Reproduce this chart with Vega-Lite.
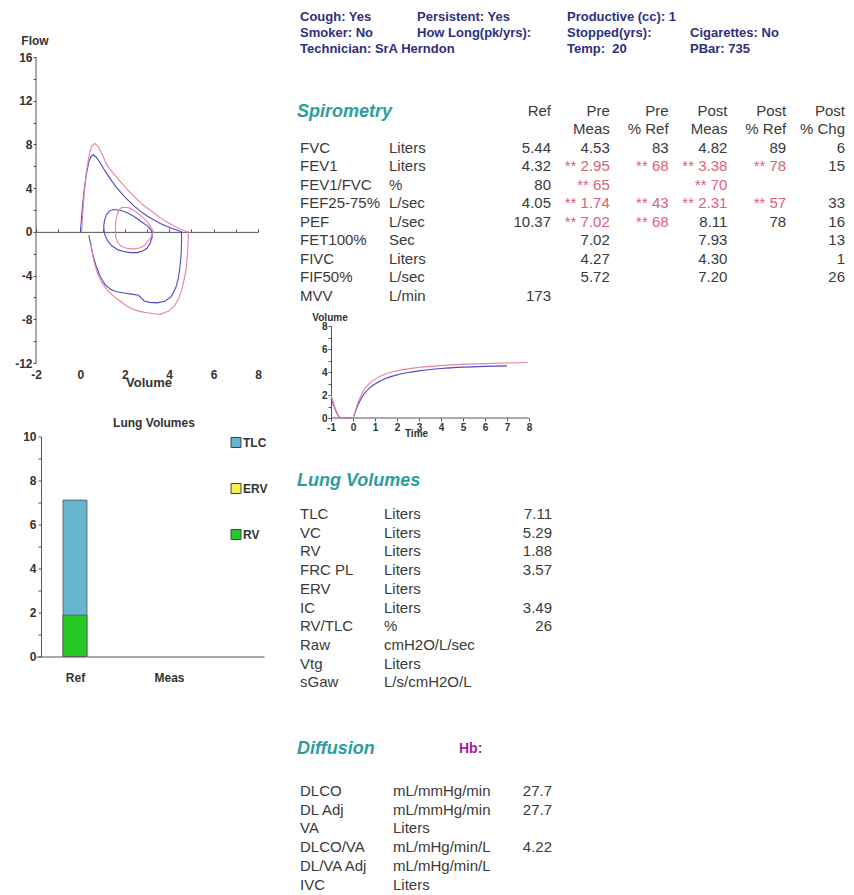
{
  "$schema": "https://vega.github.io/schema/vega-lite/v6.json",
  "background": "white",
  "padding": {"left": 14, "top": 0, "right": 0, "bottom": 0},
  "config": {
    "font": "Liberation Sans",
    "view": {"stroke": null},
    "axis": {"grid": false, "labelFont": "Liberation Sans", "titleFont": "Liberation Sans", "labelFlush": false, "domainColor": "#555", "tickColor": "#555", "labelColor": "#333", "titleColor": "#333", "labelOverlap": false}
  },
  "datasets": {
    "flowvol": [
      {"t":"Pre","c":"pre-forced","i":0,"v":0.00,"f":0.0},{"t":"Pre","c":"pre-forced","i":1,"v":0.04,"f":1.0},{"t":"Pre","c":"pre-forced","i":2,"v":0.10,"f":2.5},{"t":"Pre","c":"pre-forced","i":3,"v":0.18,"f":4.0},{"t":"Pre","c":"pre-forced","i":4,"v":0.28,"f":5.4},{"t":"Pre","c":"pre-forced","i":5,"v":0.38,"f":6.4},{"t":"Pre","c":"pre-forced","i":6,"v":0.48,"f":6.9},{"t":"Pre","c":"pre-forced","i":7,"v":0.58,"f":7.05},{"t":"Pre","c":"pre-forced","i":8,"v":0.70,"f":6.85},{"t":"Pre","c":"pre-forced","i":9,"v":0.90,"f":6.3},{"t":"Pre","c":"pre-forced","i":10,"v":1.10,"f":5.6},{"t":"Pre","c":"pre-forced","i":11,"v":1.36,"f":4.8},{"t":"Pre","c":"pre-forced","i":12,"v":1.65,"f":4.0},{"t":"Pre","c":"pre-forced","i":13,"v":1.95,"f":3.3},{"t":"Pre","c":"pre-forced","i":14,"v":2.40,"f":2.4},{"t":"Pre","c":"pre-forced","i":15,"v":2.70,"f":1.9},{"t":"Pre","c":"pre-forced","i":16,"v":3.00,"f":1.45},{"t":"Pre","c":"pre-forced","i":17,"v":3.30,"f":1.1},{"t":"Pre","c":"pre-forced","i":18,"v":3.60,"f":0.76},{"t":"Pre","c":"pre-forced","i":19,"v":3.90,"f":0.5},{"t":"Pre","c":"pre-forced","i":20,"v":4.20,"f":0.27},{"t":"Pre","c":"pre-forced","i":21,"v":4.40,"f":0.12},{"t":"Pre","c":"pre-forced","i":22,"v":4.55,"f":0.0},{"t":"Pre","c":"pre-forced","i":23,"v":4.56,"f":-0.7},{"t":"Pre","c":"pre-forced","i":24,"v":4.54,"f":-2.0},{"t":"Pre","c":"pre-forced","i":25,"v":4.49,"f":-3.1},{"t":"Pre","c":"pre-forced","i":26,"v":4.42,"f":-4.2},{"t":"Pre","c":"pre-forced","i":27,"v":4.30,"f":-5.1},{"t":"Pre","c":"pre-forced","i":28,"v":4.10,"f":-5.9},{"t":"Pre","c":"pre-forced","i":29,"v":3.80,"f":-6.35},{"t":"Pre","c":"pre-forced","i":30,"v":3.46,"f":-6.5},{"t":"Pre","c":"pre-forced","i":31,"v":3.10,"f":-6.45},{"t":"Pre","c":"pre-forced","i":32,"v":2.86,"f":-6.3},{"t":"Pre","c":"pre-forced","i":33,"v":2.62,"f":-5.8},{"t":"Pre","c":"pre-forced","i":34,"v":2.30,"f":-5.7},{"t":"Pre","c":"pre-forced","i":35,"v":1.95,"f":-5.6},{"t":"Pre","c":"pre-forced","i":36,"v":1.60,"f":-5.45},{"t":"Pre","c":"pre-forced","i":37,"v":1.36,"f":-5.25},{"t":"Pre","c":"pre-forced","i":38,"v":1.10,"f":-4.8},{"t":"Pre","c":"pre-forced","i":39,"v":0.90,"f":-4.1},{"t":"Pre","c":"pre-forced","i":40,"v":0.70,"f":-3.1},{"t":"Pre","c":"pre-forced","i":41,"v":0.55,"f":-2.0},{"t":"Pre","c":"pre-forced","i":42,"v":0.45,"f":-1.0},{"t":"Pre","c":"pre-forced","i":43,"v":0.38,"f":-0.3},
      {"t":"Post","c":"post-forced","i":0,"v":0.06,"f":0.0},{"t":"Post","c":"post-forced","i":1,"v":0.10,"f":1.5},{"t":"Post","c":"post-forced","i":2,"v":0.17,"f":3.5},{"t":"Post","c":"post-forced","i":3,"v":0.27,"f":5.5},{"t":"Post","c":"post-forced","i":4,"v":0.39,"f":7.0},{"t":"Post","c":"post-forced","i":5,"v":0.51,"f":7.8},{"t":"Post","c":"post-forced","i":6,"v":0.64,"f":8.1},{"t":"Post","c":"post-forced","i":7,"v":0.80,"f":7.8},{"t":"Post","c":"post-forced","i":8,"v":1.00,"f":7.0},{"t":"Post","c":"post-forced","i":9,"v":1.20,"f":6.1},{"t":"Post","c":"post-forced","i":10,"v":1.50,"f":5.3},{"t":"Post","c":"post-forced","i":11,"v":1.80,"f":4.6},{"t":"Post","c":"post-forced","i":12,"v":2.10,"f":3.9},{"t":"Post","c":"post-forced","i":13,"v":2.40,"f":3.3},{"t":"Post","c":"post-forced","i":14,"v":2.80,"f":2.5},{"t":"Post","c":"post-forced","i":15,"v":3.30,"f":1.75},{"t":"Post","c":"post-forced","i":16,"v":3.60,"f":1.3},{"t":"Post","c":"post-forced","i":17,"v":3.90,"f":0.9},{"t":"Post","c":"post-forced","i":18,"v":4.20,"f":0.55},{"t":"Post","c":"post-forced","i":19,"v":4.50,"f":0.27},{"t":"Post","c":"post-forced","i":20,"v":4.70,"f":0.1},{"t":"Post","c":"post-forced","i":21,"v":4.85,"f":0.0},{"t":"Post","c":"post-forced","i":22,"v":4.86,"f":-0.6},{"t":"Post","c":"post-forced","i":23,"v":4.83,"f":-1.9},{"t":"Post","c":"post-forced","i":24,"v":4.77,"f":-3.3},{"t":"Post","c":"post-forced","i":25,"v":4.70,"f":-4.1},{"t":"Post","c":"post-forced","i":26,"v":4.58,"f":-5.2},{"t":"Post","c":"post-forced","i":27,"v":4.43,"f":-6.1},{"t":"Post","c":"post-forced","i":28,"v":4.23,"f":-6.8},{"t":"Post","c":"post-forced","i":29,"v":3.98,"f":-7.25},{"t":"Post","c":"post-forced","i":30,"v":3.60,"f":-7.55},{"t":"Post","c":"post-forced","i":31,"v":3.30,"f":-7.5},{"t":"Post","c":"post-forced","i":32,"v":3.00,"f":-7.4},{"t":"Post","c":"post-forced","i":33,"v":2.70,"f":-7.3},{"t":"Post","c":"post-forced","i":34,"v":2.40,"f":-7.1},{"t":"Post","c":"post-forced","i":35,"v":2.10,"f":-6.8},{"t":"Post","c":"post-forced","i":36,"v":1.80,"f":-6.35},{"t":"Post","c":"post-forced","i":37,"v":1.50,"f":-5.9},{"t":"Post","c":"post-forced","i":38,"v":1.20,"f":-5.3},{"t":"Post","c":"post-forced","i":39,"v":0.95,"f":-4.6},{"t":"Post","c":"post-forced","i":40,"v":0.76,"f":-3.75},{"t":"Post","c":"post-forced","i":41,"v":0.62,"f":-2.8},{"t":"Post","c":"post-forced","i":42,"v":0.53,"f":-1.9},{"t":"Post","c":"post-forced","i":43,"v":0.47,"f":-1.0},
      {"t":"Pre","c":"pre-tidal","i":0,"v":3.23,"f":0.0},{"t":"Pre","c":"pre-tidal","i":1,"v":3.05,"f":0.5},{"t":"Pre","c":"pre-tidal","i":2,"v":2.86,"f":0.76},{"t":"Pre","c":"pre-tidal","i":3,"v":2.60,"f":1.15},{"t":"Pre","c":"pre-tidal","i":4,"v":2.40,"f":1.43},{"t":"Pre","c":"pre-tidal","i":5,"v":2.15,"f":1.7},{"t":"Pre","c":"pre-tidal","i":6,"v":1.95,"f":1.89},{"t":"Pre","c":"pre-tidal","i":7,"v":1.70,"f":2.0},{"t":"Pre","c":"pre-tidal","i":8,"v":1.50,"f":2.04},{"t":"Pre","c":"pre-tidal","i":9,"v":1.30,"f":1.9},{"t":"Pre","c":"pre-tidal","i":10,"v":1.18,"f":1.58},{"t":"Pre","c":"pre-tidal","i":11,"v":1.08,"f":1.0},{"t":"Pre","c":"pre-tidal","i":12,"v":1.05,"f":0.5},{"t":"Pre","c":"pre-tidal","i":13,"v":1.08,"f":-0.1},{"t":"Pre","c":"pre-tidal","i":14,"v":1.13,"f":-0.4},{"t":"Pre","c":"pre-tidal","i":15,"v":1.25,"f":-0.9},{"t":"Pre","c":"pre-tidal","i":16,"v":1.43,"f":-1.3},{"t":"Pre","c":"pre-tidal","i":17,"v":1.70,"f":-1.65},{"t":"Pre","c":"pre-tidal","i":18,"v":1.95,"f":-1.8},{"t":"Pre","c":"pre-tidal","i":19,"v":2.25,"f":-1.9},{"t":"Pre","c":"pre-tidal","i":20,"v":2.56,"f":-1.9},{"t":"Pre","c":"pre-tidal","i":21,"v":2.80,"f":-1.75},{"t":"Pre","c":"pre-tidal","i":22,"v":3.00,"f":-1.5},{"t":"Pre","c":"pre-tidal","i":23,"v":3.15,"f":-1.0},{"t":"Pre","c":"pre-tidal","i":24,"v":3.23,"f":-0.5},{"t":"Pre","c":"pre-tidal","i":25,"v":3.23,"f":0.0},
      {"t":"Post","c":"post-tidal","i":0,"v":3.30,"f":0.0},{"t":"Post","c":"post-tidal","i":1,"v":3.15,"f":0.5},{"t":"Post","c":"post-tidal","i":2,"v":3.00,"f":0.97},{"t":"Post","c":"post-tidal","i":3,"v":2.80,"f":1.35},{"t":"Post","c":"post-tidal","i":4,"v":2.56,"f":1.74},{"t":"Post","c":"post-tidal","i":5,"v":2.35,"f":2.05},{"t":"Post","c":"post-tidal","i":6,"v":2.18,"f":2.2},{"t":"Post","c":"post-tidal","i":7,"v":2.00,"f":2.25},{"t":"Post","c":"post-tidal","i":8,"v":1.84,"f":2.2},{"t":"Post","c":"post-tidal","i":9,"v":1.72,"f":1.95},{"t":"Post","c":"post-tidal","i":10,"v":1.66,"f":1.58},{"t":"Post","c":"post-tidal","i":11,"v":1.60,"f":1.0},{"t":"Post","c":"post-tidal","i":12,"v":1.58,"f":0.5},{"t":"Post","c":"post-tidal","i":13,"v":1.58,"f":-0.1},{"t":"Post","c":"post-tidal","i":14,"v":1.60,"f":-0.55},{"t":"Post","c":"post-tidal","i":15,"v":1.68,"f":-0.95},{"t":"Post","c":"post-tidal","i":16,"v":1.80,"f":-1.25},{"t":"Post","c":"post-tidal","i":17,"v":2.00,"f":-1.45},{"t":"Post","c":"post-tidal","i":18,"v":2.25,"f":-1.56},{"t":"Post","c":"post-tidal","i":19,"v":2.50,"f":-1.55},{"t":"Post","c":"post-tidal","i":20,"v":2.70,"f":-1.46},{"t":"Post","c":"post-tidal","i":21,"v":2.90,"f":-1.2},{"t":"Post","c":"post-tidal","i":22,"v":3.00,"f":-0.95},{"t":"Post","c":"post-tidal","i":23,"v":3.15,"f":-0.6},{"t":"Post","c":"post-tidal","i":24,"v":3.23,"f":-0.25},{"t":"Post","c":"post-tidal","i":25,"v":3.30,"f":0.0}
    ],
    "voltime": [
      {"t":"Pre","s":-1,"v":1.7},{"t":"Pre","s":-0.9,"v":1.2},{"t":"Pre","s":-0.8,"v":0.7},{"t":"Pre","s":-0.7,"v":0.3},{"t":"Pre","s":-0.6,"v":0.05},{"t":"Pre","s":-0.4,"v":0.0},{"t":"Pre","s":-0.2,"v":0.02},{"t":"Pre","s":0,"v":0.05},{"t":"Pre","s":0.1,"v":0.5},{"t":"Pre","s":0.2,"v":1.0},{"t":"Pre","s":0.35,"v":1.6},{"t":"Pre","s":0.5,"v":2.1},{"t":"Pre","s":0.75,"v":2.6},{"t":"Pre","s":1.0,"v":2.95},{"t":"Pre","s":1.5,"v":3.45},{"t":"Pre","s":2.0,"v":3.75},{"t":"Pre","s":2.5,"v":3.95},{"t":"Pre","s":3.0,"v":4.1},{"t":"Pre","s":4.0,"v":4.3},{"t":"Pre","s":5.0,"v":4.42},{"t":"Pre","s":6.0,"v":4.49},{"t":"Pre","s":7.0,"v":4.53},
      {"t":"Post","s":-1,"v":2.0},{"t":"Post","s":-0.9,"v":1.4},{"t":"Post","s":-0.8,"v":0.8},{"t":"Post","s":-0.7,"v":0.35},{"t":"Post","s":-0.6,"v":0.1},{"t":"Post","s":-0.5,"v":0.0},{"t":"Post","s":-0.2,"v":0.0},{"t":"Post","s":0,"v":0.05},{"t":"Post","s":0.1,"v":0.6},{"t":"Post","s":0.2,"v":1.2},{"t":"Post","s":0.35,"v":1.9},{"t":"Post","s":0.5,"v":2.45},{"t":"Post","s":0.75,"v":3.0},{"t":"Post","s":1.0,"v":3.38},{"t":"Post","s":1.5,"v":3.85},{"t":"Post","s":2.0,"v":4.1},{"t":"Post","s":2.5,"v":4.27},{"t":"Post","s":3.0,"v":4.4},{"t":"Post","s":4.0,"v":4.56},{"t":"Post","s":5.0,"v":4.66},{"t":"Post","s":6.0,"v":4.73},{"t":"Post","s":7.0,"v":4.78},{"t":"Post","s":7.93,"v":4.82}
    ],
    "info": [
      {"r":"r1","c":"c1","t":"Cough: Yes"},{"r":"r1","c":"c2","t":"Persistent: Yes"},{"r":"r1","c":"c3","t":"Productive (cc): 1"},
      {"r":"r2","c":"c1","t":"Smoker: No"},{"r":"r2","c":"c2","t":"How Long(pk/yrs):"},{"r":"r2","c":"c3","t":"Stopped(yrs):"},{"r":"r2","c":"c4","t":"Cigarettes: No"},
      {"r":"r3","c":"c1","t":"Technician: SrA Herndon"},{"r":"r3","c":"c3","t":"Temp:\u00a0 20"},{"r":"r3","c":"c4","t":"PBar: 735"}
    ],
    "spiro": [
      {"row":"h1","Ref":"Ref","PreMeas":"Pre","PrePct":"Pre","PostMeas":"Post","PostPct":"Post","PostChg":"Post"},
      {"row":"h2","PreMeas":"Meas","PrePct":"% Ref","PostMeas":"Meas","PostPct":"% Ref","PostChg":"% Chg"},
      {"row":"FVC","name":"FVC","unit":"Liters","Ref":"5.44","PreMeas":"4.53","PrePct":"83","PostMeas":"4.82","PostPct":"89","PostChg":"6"},
      {"row":"FEV1","name":"FEV1","unit":"Liters","Ref":"4.32","PreMeas":"** 2.95","PrePct":"** 68","PostMeas":"** 3.38","PostPct":"** 78","PostChg":"15"},
      {"row":"FEV1/FVC","name":"FEV1/FVC","unit":"%","Ref":"80","PreMeas":"** 65","PostMeas":"** 70"},
      {"row":"FEF25-75%","name":"FEF25-75%","unit":"L/sec","Ref":"4.05","PreMeas":"** 1.74","PrePct":"** 43","PostMeas":"** 2.31","PostPct":"** 57","PostChg":"33"},
      {"row":"PEF","name":"PEF","unit":"L/sec","Ref":"10.37","PreMeas":"** 7.02","PrePct":"** 68","PostMeas":"8.11","PostPct":"78","PostChg":"16"},
      {"row":"FET100%","name":"FET100%","unit":"Sec","PreMeas":"7.02","PostMeas":"7.93","PostChg":"13"},
      {"row":"FIVC","name":"FIVC","unit":"Liters","PreMeas":"4.27","PostMeas":"4.30","PostChg":"1"},
      {"row":"FIF50%","name":"FIF50%","unit":"L/sec","PreMeas":"5.72","PostMeas":"7.20","PostChg":"26"},
      {"row":"MVV","name":"MVV","unit":"L/min","Ref":"173"}
    ],
    "lungvol": [
      {"name":"TLC","unit":"Liters","Ref":"7.11"},{"name":"VC","unit":"Liters","Ref":"5.29"},{"name":"RV","unit":"Liters","Ref":"1.88"},{"name":"FRC PL","unit":"Liters","Ref":"3.57"},{"name":"ERV","unit":"Liters"},{"name":"IC","unit":"Liters","Ref":"3.49"},{"name":"RV/TLC","unit":"%","Ref":"26"},{"name":"Raw","unit":"cmH2O/L/sec"},{"name":"Vtg","unit":"Liters"},{"name":"sGaw","unit":"L/s/cmH2O/L"}
    ],
    "diffusion": [
      {"name":"DLCO","unit":"mL/mmHg/min","Ref":"27.7"},{"name":"DL Adj","unit":"mL/mmHg/min","Ref":"27.7"},{"name":"VA","unit":"Liters"},{"name":"DLCO/VA","unit":"mL/mHg/min/L","Ref":"4.22"},{"name":"DL/VA Adj","unit":"mL/mHg/min/L"},{"name":"IVC","unit":"Liters"}
    ],
    "lungbars": [
      {"col":"Ref","comp":"TLC","val":7.11},{"col":"Ref","comp":"RV","val":1.88}
    ],
    "titles": [
      {"k":"spiro","row":"title","t":"Spirometry"},{"k":"lv","row":"title","t":"Lung Volumes"},{"k":"dif","row":"title","t":"Diffusion"},{"k":"hb","row":"title","t":"Hb:"}
    ]
  },
  "spacing": 26,
  "resolve": {"scale": {"color": "independent"}, "legend": {"color": "independent"}},
  "hconcat": [
    {
      "spacing": 27.5,
      "resolve": {"scale": {"color": "independent"}, "legend": {"color": "independent"}},
      "vconcat": [
        {
          "width": 222,
          "height": 363,
          "layer": [
            {
              "data": {"values": [{}]},
              "mark": {"type": "rule", "color": "#555", "strokeWidth": 1},
              "encoding": {
                "x": {"datum": -2, "type": "quantitative", "axis": null},
                "y": {"datum": -12, "type": "quantitative", "axis": null},
                "y2": {"datum": 16}
              }
            },
            {
              "data": {"name": "flowvol"},
              "mark": {"type": "point", "opacity": 0},
              "encoding": {
                "x": {"field": "v", "type": "quantitative", "scale": {"domain": [-2, 8], "nice": false, "zero": false},
                  "axis": {"orient": "top", "offset": -231.86, "values": [-2,-1,0,1,2,3,4,5,6,7,8], "labels": false, "domain": true, "tickSize": 3, "title": null}},
                "y": {"field": "f", "type": "quantitative", "scale": {"domain": [-12, 21.2157], "nice": false, "zero": false}, "axis": null}
              }
            },
            {
              "data": {"name": "flowvol"},
              "mark": {"type": "line", "strokeWidth": 1.1},
              "encoding": {
                "x": {"field": "v", "type": "quantitative", "scale": {"domain": [-2, 8], "nice": false, "zero": false},
                  "axis": {"orient": "bottom", "values": [-2,0,2,4,6,8], "labelExpr": "replace(datum.label, '\u2212', '-')", "ticks": false, "domain": false, "labelPadding": 6, "labelFontSize": 12, "labelFontWeight": "bold", "title": "Volume", "titleFontSize": 13, "titleFontWeight": "bold", "titleX": 112.5, "titleY": 19, "titleAlign": "center", "titleBaseline": "middle", "titleAngle": 0}},
                "y": {"field": "f", "type": "quantitative", "scale": {"domain": [-12, 21.2157], "nice": false, "zero": false},
                  "axis": {"values": [-12,-10,-8,-6,-4,-2,0,2,4,6,8,10,12,14,16], "labelExpr": "datum.value % 4 === 0 ? replace(datum.label, '\u2212', '-') : ''", "domain": false, "tickSize": 3, "labelPadding": 1, "labelFontSize": 12, "labelFontWeight": "bold", "title": "Flow", "titleAngle": 0, "titleX": -1.5, "titleY": 40, "titleAlign": "center", "titleBaseline": "middle", "titleFontSize": 12, "titleFontWeight": "bold"}},
                "color": {"field": "t", "type": "nominal", "scale": {"domain": ["Pre", "Post"], "range": ["#5048c8", "#e884a0"]}, "legend": null},
                "detail": {"field": "c", "type": "nominal"},
                "order": {"field": "i", "type": "quantitative"}
              }
            }
          ],
          "resolve": {"axis": {"x": "independent", "y": "independent"}}
        },
        {
          "width": 228,
          "height": 220,
          "title": {"text": "Lung Volumes", "fontSize": 12, "fontWeight": "bold", "color": "#333", "offset": 1, "frame": "group", "anchor": "middle", "dx": 4},
          "data": {"name": "lungbars"},
          "mark": {"type": "bar", "width": 24, "stroke": "#555", "strokeWidth": 0.8},
          "encoding": {
            "x": {"field": "col", "type": "nominal", "scale": {"type": "point", "domain": ["Ref", "Meas"], "padding": 0.7128, "align": 0.291},
              "axis": {"title": null, "labelAngle": 0, "ticks": false, "labelPadding": 16, "labelFontSize": 12, "labelFontWeight": "bold"}},
            "y": {"field": "val", "type": "quantitative", "stack": null, "scale": {"domain": [0, 10], "nice": false},
              "axis": {"title": null, "values": [0,1,2,3,4,5,6,7,8,9,10], "labelExpr": "datum.value % 2 === 0 ? datum.label : ''", "offset": -5, "tickSize": 3, "labelPadding": 2, "labelFontSize": 12, "labelFontWeight": "bold"}},
            "color": {"field": "comp", "type": "nominal", "scale": {"domain": ["TLC", "ERV", "RV"], "range": ["#66b5cf", "#f2f24a", "#27c927"]},
              "legend": {"orient": "none", "legendX": 194, "legendY": 0, "title": null, "symbolType": "square", "symbolSize": 100, "symbolStrokeColor": "#444", "symbolStrokeWidth": 1, "labelFontSize": 12, "labelFontWeight": "bold", "labelOffset": 1, "rowPadding": 32, "labelColor": "#333"}}
          }
        }
      ]
    },
    {
      "spacing": 0,
      "resolve": {"scale": {"color": "independent"}, "legend": {"color": "independent"}},
      "vconcat": [
        {
          "width": 560,
          "height": 60,
          "data": {"name": "info"},
          "layer": [
            {
              "transform": [{"filter": "datum.c === 'c1' || datum.c === 'c2'"}],
              "mark": {"type": "text", "align": "left", "baseline": "middle", "fontSize": 13, "fontWeight": "bold", "color": "#2f2f80"},
              "encoding": {
                "x": {"field": "c", "type": "nominal", "scale": {"type": "point", "domain": ["c1", "c2"], "range": [6, 123], "padding": 0}, "axis": null},
                "y": {"field": "r", "type": "nominal", "scale": {"type": "point", "domain": ["r1", "r2", "r3"], "range": [17, 49], "padding": 0}, "axis": null},
                "text": {"field": "t", "type": "nominal"}
              }
            },
            {
              "transform": [{"filter": "datum.c === 'c3' || datum.c === 'c4'"}],
              "mark": {"type": "text", "align": "left", "baseline": "middle", "fontSize": 13, "fontWeight": "bold", "color": "#2f2f80"},
              "encoding": {
                "x": {"field": "c", "type": "nominal", "scale": {"type": "point", "domain": ["c3", "c4"], "range": [273, 396], "padding": 0}, "axis": null},
                "y": {"field": "r", "type": "nominal", "scale": {"type": "point", "domain": ["r1", "r2", "r3"], "range": [17, 49], "padding": 0}, "axis": null},
                "text": {"field": "t", "type": "nominal"}
              }
            }
          ],
          "resolve": {"scale": {"x": "independent", "y": "independent"}}
        },
        {
          "width": 560,
          "height": 252,
          "layer": [
            {
              "data": {"name": "titles"},
              "transform": [{"filter": "datum.k === 'spiro'"}],
              "mark": {"type": "text", "align": "left", "baseline": "middle", "fontSize": 18, "fontWeight": "bold", "fontStyle": "italic", "color": "#2b9e9e"},
              "encoding": {
                "x": {"field": "k", "type": "nominal", "scale": {"type": "point", "domain": ["spiro"], "padding": 0.5, "align": 0.005357}, "axis": null},
                "y": {"field": "row", "type": "nominal", "scale": {"type": "point", "domain": ["title"], "padding": 0.5, "align": 0.2063}, "axis": null},
                "text": {"field": "t", "type": "nominal"}
              }
            },
            {
              "data": {"name": "spiro"},
              "transform": [{"fold": ["name", "unit"], "as": ["k", "v"]}, {"filter": "isValid(datum.v) && datum.v !== ''"}],
              "mark": {"type": "text", "align": "left", "baseline": "middle", "fontSize": 15, "color": "#3a3a3a"},
              "encoding": {
                "x": {"field": "k", "type": "nominal", "scale": {"type": "point", "domain": ["name", "unit"], "range": [6, 95], "padding": 0}, "axis": null},
                "y": {"field": "row", "type": "nominal", "scale": {"type": "point", "domain": ["h1","h2","FVC","FEV1","FEV1/FVC","FEF25-75%","PEF","FET100%","FIVC","FIF50%","MVV"], "range": [50.5, 235.5], "padding": 0}, "axis": null},
                "text": {"field": "v", "type": "nominal"}
              }
            },
            {
              "data": {"name": "spiro"},
              "transform": [{"fold": ["Ref", "PreMeas", "PrePct", "PostMeas", "PostPct", "PostChg"], "as": ["k", "v"]}, {"filter": "isValid(datum.v) && datum.v !== ''"}],
              "mark": {"type": "text", "align": "right", "baseline": "middle", "fontSize": 15},
              "encoding": {
                "x": {"field": "k", "type": "nominal", "scale": {"type": "point", "domain": ["Ref", "PreMeas", "PrePct", "PostMeas", "PostPct", "PostChg"], "range": [257, 551], "padding": 0}, "axis": null},
                "y": {"field": "row", "type": "nominal", "scale": {"type": "point", "domain": ["h1","h2","FVC","FEV1","FEV1/FVC","FEF25-75%","PEF","FET100%","FIVC","FIF50%","MVV"], "range": [50.5, 235.5], "padding": 0}, "axis": null},
                "text": {"field": "v", "type": "nominal"},
                "color": {"condition": {"test": "indexof(datum.v, '**') >= 0", "value": "#e0607a"}, "value": "#3a3a3a"}
              }
            }
          ],
          "resolve": {"scale": {"x": "independent", "y": "independent"}}
        },
        {
          "width": 235,
          "height": 92,
          "layer": [
            {
              "data": {"values": [{}]},
              "mark": {"type": "rule", "color": "#555", "strokeWidth": 1},
              "encoding": {
                "x": {"datum": -1, "type": "quantitative", "axis": null},
                "x2": {"datum": 8},
                "y": {"datum": 0, "type": "quantitative", "axis": null}
              }
            },
            {
              "data": {"name": "voltime"},
              "mark": {"type": "line", "strokeWidth": 1.1, "interpolate": "monotone"},
              "encoding": {
                "x": {"field": "s", "type": "quantitative", "scale": {"domain": [-2.6818, 8], "nice": false, "zero": false},
                  "axis": {"values": [-1,0,1,2,3,4,5,6,7,8], "labelExpr": "replace(datum.label, '\u2212', '-')", "domain": false, "tickSize": 3, "labelPadding": 1, "labelFontSize": 10, "labelFontWeight": "bold", "title": "Time", "titleFontSize": 10, "titleFontWeight": "bold", "titleX": 122, "titleY": 15, "titleAlign": "center", "titleBaseline": "middle"}},
                "y": {"field": "v", "type": "quantitative", "scale": {"domain": [0, 8], "nice": false},
                  "axis": {"values": [0,1,2,3,4,5,6,7,8], "labelExpr": "datum.value % 2 === 0 ? datum.label : ''", "offset": -37, "tickSize": 3, "labelPadding": 1, "labelFontSize": 10, "labelFontWeight": "bold", "title": "Volume", "titleAngle": 0, "titleX": -1.5, "titleY": -9, "titleAlign": "center", "titleBaseline": "middle", "titleFontSize": 10, "titleFontWeight": "bold"}},
                "color": {"field": "t", "type": "nominal", "scale": {"domain": ["Pre", "Post"], "range": ["#5048c8", "#e884a0"]}, "legend": null}
              }
            }
          ],
          "resolve": {"axis": {"x": "independent", "y": "independent"}}
        },
        {
          "width": 560,
          "height": 283,
          "layer": [
            {
              "data": {"name": "titles"},
              "transform": [{"filter": "datum.k === 'lv'"}],
              "mark": {"type": "text", "align": "left", "baseline": "middle", "fontSize": 18, "fontWeight": "bold", "fontStyle": "italic", "color": "#2b9e9e"},
              "encoding": {
                "x": {"field": "k", "type": "nominal", "scale": {"type": "point", "domain": ["lv"], "padding": 0.5, "align": 0.005357}, "axis": null},
                "y": {"field": "row", "type": "nominal", "scale": {"type": "point", "domain": ["title"], "padding": 0.5, "align": 0.1519}, "axis": null},
                "text": {"field": "t", "type": "nominal"}
              }
            },
            {
              "data": {"name": "lungvol"},
              "transform": [{"fold": ["name", "unit"], "as": ["k", "v"]}, {"filter": "isValid(datum.v) && datum.v !== ''"}],
              "mark": {"type": "text", "align": "left", "baseline": "middle", "fontSize": 15, "color": "#3a3a3a"},
              "encoding": {
                "x": {"field": "k", "type": "nominal", "scale": {"type": "point", "domain": ["name", "unit"], "range": [6, 90], "padding": 0}, "axis": null},
                "y": {"field": "name", "type": "nominal", "scale": {"type": "point", "domain": ["TLC","VC","RV","FRC PL","ERV","IC","RV/TLC","Raw","Vtg","sGaw"], "range": [76, 244.3], "padding": 0}, "axis": null},
                "text": {"field": "v", "type": "nominal"}
              }
            },
            {
              "data": {"name": "lungvol"},
              "transform": [{"fold": ["Ref"], "as": ["k", "v"]}, {"filter": "isValid(datum.v) && datum.v !== ''"}],
              "mark": {"type": "text", "align": "right", "baseline": "middle", "fontSize": 15, "color": "#3a3a3a"},
              "encoding": {
                "x": {"field": "k", "type": "nominal", "scale": {"type": "point", "domain": ["Ref"], "padding": 0.5, "align": 0.46071}, "axis": null},
                "y": {"field": "name", "type": "nominal", "scale": {"type": "point", "domain": ["TLC","VC","RV","FRC PL","ERV","IC","RV/TLC","Raw","Vtg","sGaw"], "range": [76, 244.3], "padding": 0}, "axis": null},
                "text": {"field": "v", "type": "nominal"}
              }
            }
          ],
          "resolve": {"scale": {"x": "independent", "y": "independent"}}
        },
        {
          "width": 560,
          "height": 175,
          "layer": [
            {
              "data": {"name": "titles"},
              "transform": [{"filter": "datum.k === 'dif'"}],
              "mark": {"type": "text", "align": "left", "baseline": "middle", "fontSize": 18, "fontWeight": "bold", "fontStyle": "italic", "color": "#2b9e9e"},
              "encoding": {
                "x": {"field": "k", "type": "nominal", "scale": {"type": "point", "domain": ["dif", "hb"], "range": [3, 165], "padding": 0}, "axis": null},
                "y": {"field": "row", "type": "nominal", "scale": {"type": "point", "domain": ["title"], "padding": 0.5, "align": 0.16}, "axis": null},
                "text": {"field": "t", "type": "nominal"}
              }
            },
            {
              "data": {"name": "titles"},
              "transform": [{"filter": "datum.k === 'hb'"}],
              "mark": {"type": "text", "align": "left", "baseline": "middle", "fontSize": 14, "fontWeight": "bold", "color": "#a0209a"},
              "encoding": {
                "x": {"field": "k", "type": "nominal", "scale": {"type": "point", "domain": ["dif", "hb"], "range": [3, 165], "padding": 0}, "axis": null},
                "y": {"field": "row", "type": "nominal", "scale": {"type": "point", "domain": ["title"], "padding": 0.5, "align": 0.16}, "axis": null},
                "text": {"field": "t", "type": "nominal"}
              }
            },
            {
              "data": {"name": "diffusion"},
              "transform": [{"fold": ["name", "unit"], "as": ["k", "v"]}, {"filter": "isValid(datum.v) && datum.v !== ''"}],
              "mark": {"type": "text", "align": "left", "baseline": "middle", "fontSize": 15, "color": "#3a3a3a"},
              "encoding": {
                "x": {"field": "k", "type": "nominal", "scale": {"type": "point", "domain": ["name", "unit"], "range": [6, 99], "padding": 0}, "axis": null},
                "y": {"field": "name", "type": "nominal", "scale": {"type": "point", "domain": ["DLCO","DL Adj","VA","DLCO/VA","DL/VA Adj","IVC"], "range": [70, 163.5], "padding": 0}, "axis": null},
                "text": {"field": "v", "type": "nominal"}
              }
            },
            {
              "data": {"name": "diffusion"},
              "transform": [{"fold": ["Ref"], "as": ["k", "v"]}, {"filter": "isValid(datum.v) && datum.v !== ''"}],
              "mark": {"type": "text", "align": "right", "baseline": "middle", "fontSize": 15, "color": "#3a3a3a"},
              "encoding": {
                "x": {"field": "k", "type": "nominal", "scale": {"type": "point", "domain": ["Ref"], "padding": 0.5, "align": 0.46071}, "axis": null},
                "y": {"field": "name", "type": "nominal", "scale": {"type": "point", "domain": ["DLCO","DL Adj","VA","DLCO/VA","DL/VA Adj","IVC"], "range": [70, 163.5], "padding": 0}, "axis": null},
                "text": {"field": "v", "type": "nominal"}
              }
            }
          ],
          "resolve": {"scale": {"x": "independent", "y": "independent"}}
        }
      ]
    }
  ]
}
